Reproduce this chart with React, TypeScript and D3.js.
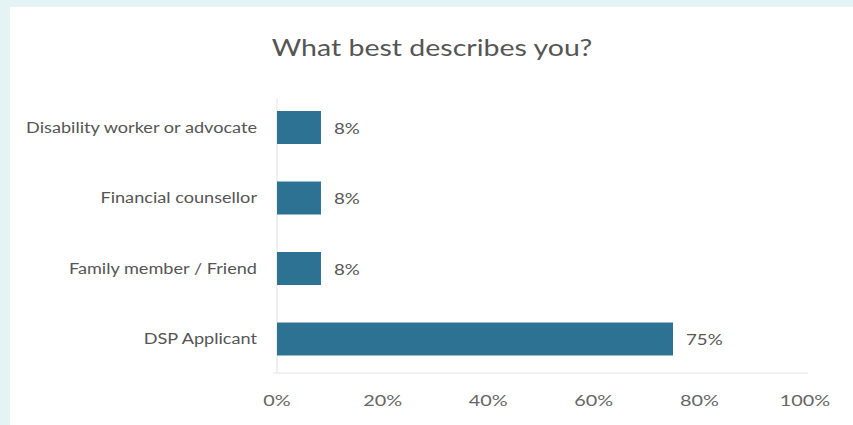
import React from "react";
import * as d3 from "d3";

const categories = ["Disability worker or advocate", "Financial counsellor", "Family member / Friend", "DSP Applicant"];
const values = [8.33, 8.33, 8.33, 75];
const valueLabels = ["8%", "8%", "8%", "75%"];
const xTicks = [0, 20, 40, 60, 80, 100];
const title = "What best describes you?";

const font = "Lato, 'Open Sans', sans-serif";

function T(props: { x: number; y: number; sx: number; size: number; anchor?: string; fill?: string; dy?: string; children: React.ReactNode }) {
  return (
    <text
      transform={`translate(${props.x},${props.y}) scale(${props.sx},1)`}
      dy={props.dy}
      textAnchor={props.anchor || "start"}
      fontFamily={font}
      fontSize={props.size}
      fill={props.fill || "#555"}
    >
      {props.children}
    </text>
  );
}

export default function App() {
  const W = 853, H = 425;
  const x = d3.scaleLinear().domain([0, 100]).range([277, 805]);
  const y = d3.scaleBand<string>().domain(categories).range([75.75, 390.75]).paddingInner(0.532).paddingOuter(0.5);
  return (
    <svg width={W} height={H} style={{ position: "absolute", left: 0, top: 0 }}>
      <rect x={0} y={0} width={W} height={H} fill="#e4f3f3" />
      <rect x={10} y={7} width={W - 10} height={H - 7} fill="#ffffff" />
      <T x={432} y={56} sx={1.24} size={23} anchor="middle" fill="#555">{title}</T>
      <line x1={x(0)} x2={x(0)} y1={98} y2={373} stroke="#eadcdc" strokeWidth={1} />
      <line x1={x(0) - 4} x2={808} y1={373} y2={373} stroke="#e4e4e4" strokeWidth={1} />
      {categories.map((c, i) => (
        <g key={c}>
          <rect x={x(0)} y={y(c)} width={x(values[i]) - x(0)} height={y.bandwidth()} fill="#2e7293" />
          <T x={257} y={(y(c) as number) + y.bandwidth() / 2} dy="0.35em" sx={1.21} size={15} anchor="end">{c}</T>
          <T x={x(values[i]) + 13} y={(y(c) as number) + y.bandwidth() / 2 + 1} dy="0.35em" sx={1.25} size={15}>{valueLabels[i]}</T>
        </g>
      ))}
      {xTicks.map((t) => (
        <T key={t} x={x(t)} y={406} sx={1.28} size={15.5} anchor="middle" fill="#666">{t}%</T>
      ))}
    </svg>
  );
}
